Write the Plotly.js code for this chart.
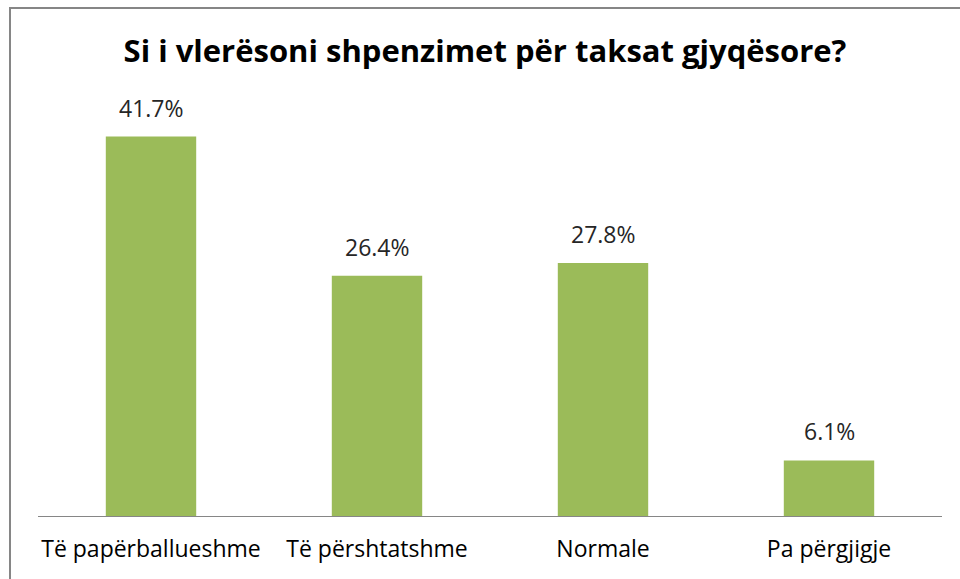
<!DOCTYPE html>
<html>
<head>
<meta charset="utf-8">
<script src="https://cdn.plot.ly/plotly-3.0.1.min.js"></script>
<style>
html,body{margin:0;padding:0;background:#fff;}
#chart{width:960px;height:579px;}
</style>
</head>
<body>
<div id="chart"></div>
<script>
const categories = ["Të papërballueshme", "Të përshtatshme", "Normale", "Pa përgjigje"];
const values = [41.7, 26.4, 27.8, 6.1];
const labels = ["41.7%", "26.4%", "27.8%", "6.1%"];
const chartTitle = "Si i vlerësoni shpenzimet për taksat gjyqësore?";

const FONT = "'Open Sans', 'Liberation Sans', sans-serif";

const trace = {
  type: "bar",
  x: categories,
  y: values,
  marker: {color: "#9BBB59"},
  width: 0.4,
  hoverinfo: "none"
};

const annotations = categories.map((c, i) => ({
  x: c, y: values[i], xref: "x", yref: "y",
  text: labels[i], showarrow: false,
  yanchor: "bottom", yshift: 11,
  font: {family: FONT, size: 23, color: "#262626"}
}));

const layout = {
  width: 960, height: 579,
  margin: {l: 38, r: 18, t: 61, b: 63},
  paper_bgcolor: "#fff", plot_bgcolor: "#fff",
  showlegend: false,
  title: {
    text: "<b>" + chartTitle + "</b>",
    x: 485/960, xanchor: "center",
    y: 1 - 51/579, yanchor: "middle",
    font: {family: FONT, size: 31, color: "#000"}
  },
  xaxis: {
    showline: true, linecolor: "#868686", linewidth: 1,
    ticks: "", showgrid: false, zeroline: false,
    ticklabelstandoff: 12,
    tickfont: {family: FONT, size: 23, color: "#000"},
    fixedrange: true
  },
  yaxis: {
    range: [0, 50], showticklabels: false, showgrid: false,
    zeroline: false, showline: false, ticks: "", fixedrange: true
  },
  annotations: annotations,
  shapes: [{
    type: "rect", xref: "paper", yref: "paper",
    x0: -28/904, x1: 1.2, y0: -0.5, y1: (516-8)/455,
    line: {color: "#868686", width: 2}, fillcolor: "rgba(0,0,0,0)"
  }]
};

Plotly.newPlot("chart", [trace], layout, {displayModeBar: false, staticPlot: true});
</script>
</body>
</html>
